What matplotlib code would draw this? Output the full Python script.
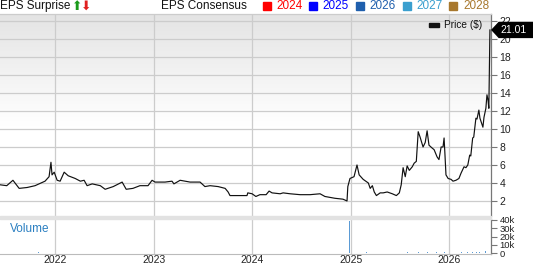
import numpy as np
import pandas as pd
import matplotlib
matplotlib.use("Agg")
import matplotlib.pyplot as plt
import matplotlib.dates as mdates
from matplotlib.patches import Rectangle, Polygon
from matplotlib.colors import LinearSegmentedColormap

plt.rcParams['font.family'] = ['Liberation Sans', 'DejaVu Sans']

# ---------------- data ----------------
price_dates = [
    "2021-06-10", "2021-07-05", "2021-07-28", "2021-08-20", "2021-09-19", "2021-10-18",
    "2021-11-24", "2021-12-09", "2021-12-16", "2021-12-20", "2021-12-28", "2022-01-08",
    "2022-01-19", "2022-02-03", "2022-02-18", "2022-03-16", "2022-04-04", "2022-04-18",
    "2022-04-29", "2022-05-18", "2022-06-17", "2022-07-05", "2022-08-04", "2022-09-06",
    "2022-09-21", "2022-10-16", "2022-11-11", "2022-12-11", "2022-12-26", "2023-01-06",
    "2023-02-12", "2023-03-10", "2023-03-17", "2023-04-09", "2023-05-16", "2023-06-22",
    "2023-07-10", "2023-07-29", "2023-08-28", "2023-09-23", "2023-10-04", "2023-10-11",
    "2023-11-17", "2023-12-13", "2023-12-16", "2024-01-01", "2024-01-15", "2024-01-30",
    "2024-02-22", "2024-03-04", "2024-03-15", "2024-04-14", "2024-04-25", "2024-05-21",
    "2024-06-27", "2024-08-03", "2024-09-09", "2024-09-27", "2024-11-03", "2024-12-03",
    "2024-12-18", "2024-12-21", "2024-12-29", "2025-01-13", "2025-01-24", "2025-02-01",
    "2025-02-16", "2025-03-07", "2025-03-14", "2025-03-22", "2025-03-29", "2025-04-06",
    "2025-04-20", "2025-05-01", "2025-05-16", "2025-06-04", "2025-06-19", "2025-06-30",
    "2025-07-07", "2025-07-14", "2025-07-22", "2025-07-29", "2025-08-06", "2025-08-17",
    "2025-08-24", "2025-09-01", "2025-09-08", "2025-09-15", "2025-09-26", "2025-10-04",
    "2025-10-11", "2025-10-18", "2025-10-29", "2025-11-06", "2025-11-17", "2025-11-24",
    "2025-12-02", "2025-12-09", "2025-12-13", "2025-12-16", "2025-12-20", "2025-12-28",
    "2026-01-08", "2026-01-15", "2026-01-26", "2026-02-06", "2026-02-14", "2026-02-25",
    "2026-03-04", "2026-03-11", "2026-03-18", "2026-03-22", "2026-03-29", "2026-04-02",
    "2026-04-10", "2026-04-14", "2026-04-21", "2026-04-25", "2026-05-06", "2026-05-10",
    "2026-05-17", "2026-05-21", "2026-05-25", "2026-05-28", "2026-06-01",
]
price_values = [
    3.8, 3.7, 4.3, 3.4, 3.5, 3.7,
    4.2, 4.7, 6.3, 4.9, 5.2, 4.3,
    4.2, 5.2, 4.8, 4.5, 4.2, 4.3,
    3.7, 3.9, 3.7, 3.3, 3.6, 4.1,
    3.3, 3.4, 3.7, 3.7, 4.3, 4.1,
    4.1, 4.2, 3.9, 4.3, 4.1, 4.1,
    3.6, 3.7, 3.6, 3.4, 3.0, 2.6,
    2.6, 2.6, 2.9, 2.8, 2.5, 2.7,
    2.7, 3.1, 2.9, 2.8, 2.9, 2.8,
    2.7, 2.7, 2.8, 2.5, 2.3, 2.2,
    2.0, 3.6, 4.5, 4.7, 6.0, 4.9,
    4.4, 4.0, 3.4, 3.7, 3.0, 2.6,
    2.9, 2.9, 3.0, 2.8, 2.6, 2.9,
    3.8, 5.7, 4.7, 5.9, 5.4, 5.8,
    6.2, 6.4, 9.7, 9.1, 8.0, 8.5,
    9.8, 8.2, 7.9, 7.7, 6.9, 6.6,
    8.0, 8.0, 9.0, 7.3, 4.9, 4.5,
    4.4, 4.2, 4.3, 4.5, 5.1, 5.8,
    5.7, 6.0, 7.1, 7.0, 9.0, 9.1,
    11.2, 11.1, 12.1, 11.2, 10.2, 11.3,
    12.3, 13.8, 13.2, 12.3, 21.01,
]

volume_dates = [
    "2021-07-01", "2021-09-01", "2021-11-01", "2021-12-16", "2022-02-01", "2022-04-01",
    "2022-06-01", "2022-08-01", "2022-10-01", "2022-12-01", "2023-02-01", "2023-04-01",
    "2023-06-01", "2023-08-01", "2023-10-01", "2023-12-01", "2024-02-01", "2024-04-01",
    "2024-06-01", "2024-08-01", "2024-10-01", "2024-12-01", "2024-12-26", "2025-01-24",
    "2025-03-01", "2025-05-01", "2025-07-10", "2025-07-30", "2025-09-08", "2025-10-11",
    "2025-11-15", "2025-12-15", "2026-01-15", "2026-02-15", "2026-03-10", "2026-03-29",
    "2026-04-12", "2026-04-24", "2026-05-06", "2026-05-17", "2026-05-25", "2026-06-01",
]
volume_values = [
    600, 500, 700, 900, 500, 400,
    400, 300, 300, 400, 300, 300,
    300, 300, 400, 300, 300, 300,
    300, 300, 300, 400, 39000, 1500,
    800, 600, 13000, 1500, 1400, 1300,
    1000, 1200, 900, 900, 1000, 1800,
    1500, 1600, 1800, 2200, 3000, 21000,
]

year_ticks = ["2022", "2023", "2024", "2025", "2026"]
price_ticks = [2, 4, 6, 8, 10, 12, 14, 16, 18, 20, 22]
volume_ticks = [0, 10000, 20000, 30000, 40000]
volume_tick_labels = ["0", "10k", "20k", "30k", "40k"]

header_years = ["2024", "2025", "2026", "2027", "2028"]
header_colors = ["#ff0000", "#0000ff", "#1f5fad", "#3a9fcf", "#a8782d"]

# ---------------- layout ----------------
W, H = 533, 264
fig = plt.figure(figsize=(W / 100, H / 100), dpi=100)
fig.patch.set_facecolor("white")

def fx(px):
    return px / W

def fy(py):
    return 1 - py / H

AX_R = 491
P_TOP, P_BOT = 14, 216
V_TOP, V_BOT = 219, 254

rect_p = [0, fy(P_BOT), fx(AX_R), (P_BOT - P_TOP) / H]
rect_v = [0, fy(V_BOT), fx(AX_R), (V_BOT - V_TOP) / H]

# gradient background for price panel
bg = fig.add_axes(rect_p, zorder=0)
n = 200
grad = np.ones((n, 1))
for i in range(n):
    t = i / (n - 1)
    grad[i, 0] = min(1.0, t / 0.55)
cmap = LinearSegmentedColormap.from_list("g", ["#e4e4e4", "#ffffff"])
bg.imshow(grad, aspect="auto", cmap=cmap, extent=[0, 1, 0, 1], origin="upper", vmin=0, vmax=1)
bg.set_axis_off()

ax = fig.add_axes(rect_p, zorder=1)
ax.set_facecolor("none")
axv = fig.add_axes(rect_v, zorder=1)
axv.set_facecolor("white")

pd_dates = pd.to_datetime(price_dates)
vd_dates = pd.to_datetime(volume_dates)
xmin = pd.Timestamp("2021-06-10")
xmax = pd.Timestamp("2026-06-05")
tick_dates = [pd.Timestamp(f"{y}-01-01") for y in year_ticks]

grid_c = "#cccccc"
axis_c = "#777777"

# price line
ax.plot(pd_dates, price_values, color="#111111", lw=0.85, zorder=3)
ax.set_xlim(xmin, xmax)
ax.set_ylim(0.33, 22.78)
ax.set_yticks(price_ticks)
ax.set_xticks(tick_dates)
ax.grid(True, color=grid_c, lw=0.9)
ax.set_axisbelow(True)
ax.yaxis.tick_right()
ax.tick_params(axis="y", direction="out", length=4, width=0.8, color=axis_c,
               labelsize=7.5, pad=2, labelcolor="#222222")
ax.tick_params(axis="x", length=0, labelbottom=False)
for s in ["left", "bottom"]:
    ax.spines[s].set_visible(False)
ax.spines["top"].set_color(grid_c)
ax.spines["top"].set_linewidth(0.9)
ax.spines["right"].set_color(axis_c)
ax.spines["right"].set_linewidth(0.9)

# volume bars
axv.bar(vd_dates, volume_values, width=3, color="#5b9bd5", zorder=3)
axv.set_xlim(xmin, xmax)
axv.set_ylim(-1176, 41176)
axv.set_yticks(volume_ticks)
axv.set_yticklabels(volume_tick_labels)
axv.set_xticks(tick_dates)
axv.set_xticklabels(year_ticks)
axv.grid(True, axis="x", color=grid_c, lw=0.9)
axv.set_axisbelow(True)
axv.yaxis.tick_right()
axv.tick_params(axis="y", direction="out", length=4, width=0.8, color=axis_c,
                labelsize=6.8, pad=2, labelcolor="#222222")
axv.tick_params(axis="x", length=0, labelsize=7.5, pad=1, labelcolor="#222222")
for s in ["left", "top"]:
    axv.spines[s].set_visible(False)
axv.spines["bottom"].set_color("#bbbbbb")
axv.spines["right"].set_color(axis_c)
axv.spines["right"].set_linewidth(0.9)

# separator band between panels
fig.patches.append(Rectangle((0, fy(V_TOP)), fx(AX_R), (V_TOP - P_BOT) / H,
                             transform=fig.transFigure, color="#e2e2e2", zorder=2))

# volume label
fig.text(fx(10), fy(229), "Volume", color="#2a7fc1", fontsize=8.5, va="center", ha="left")

# header
fig.text(0, fy(6), "EPS Surprise", fontsize=8.5, va="center", ha="left", color="#111111")
fig.text(fx(72), fy(6.5), "⬆", fontsize=9, va="center", ha="left", color="#1a9a1a",
         family=["DejaVu Sans"])
fig.text(fx(81), fy(6.5), "⬇", fontsize=9, va="center", ha="left", color="#e02020",
         family=["DejaVu Sans"])
fig.text(fx(161), fy(6), "EPS Consensus", fontsize=8.5, va="center", ha="left", color="#111111")
sq_x = [263, 309, 356, 403, 449]
txt_x = [276, 322, 369, 416, 463]
for yr, c, sx, tx in zip(header_years, header_colors, sq_x, txt_x):
    fig.patches.append(Rectangle((fx(sx), fy(9.5)), 8 / W, 8 / H, transform=fig.transFigure,
                                 color=c, zorder=3))
    fig.text(fx(tx), fy(6), yr, fontsize=8.5, va="center", ha="left", color=c)

# price legend
fig.patches.append(Rectangle((fx(429), fy(27)), 10 / W, 4 / H, transform=fig.transFigure,
                             color="#111111", zorder=4))
fig.text(fx(444), fy(25.5), "Price ($)", fontsize=7.3, va="center", ha="left", color="#111111")

# last price box
fig.canvas.draw()
last_price = price_values[-1]
y_disp = ax.transData.transform((mdates.date2num(xmax), last_price))[1]
py = H - y_disp
tip = AX_R + 1
pts_px = [(tip, py), (tip + 7, py - 7.5), (W + 2, py - 7.5), (W + 2, py + 7.5), (tip + 7, py + 7.5)]
poly = Polygon([(fx(a), fy(b)) for a, b in pts_px], closed=True, transform=fig.transFigure,
               facecolor="black", edgecolor="black", zorder=5)
fig.patches.append(poly)
fig.text(fx(514), fy(py), f"{last_price:.2f}", color="white", fontsize=7.5,
         va="center", ha="center", zorder=6)

fig.savefig("out.png", dpi=100)
